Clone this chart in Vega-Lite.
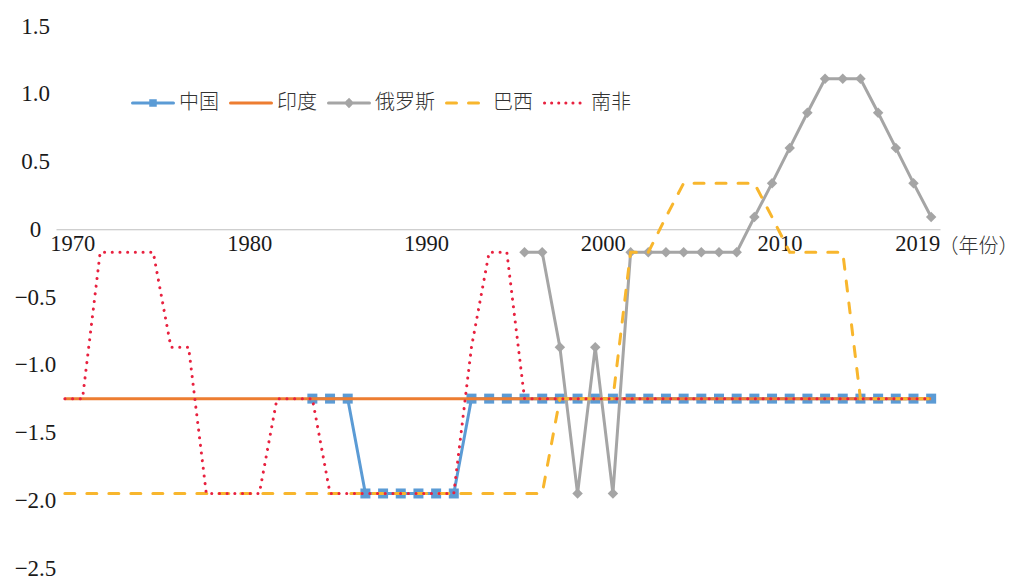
{
  "$schema": "https://vega.github.io/schema/vega-lite/v6.json",
  "width": 884,
  "height": 542,
  "autosize": "none",
  "padding": {"left": 56, "top": 26, "right": 79, "bottom": 11},
  "background": "white",
  "config": {"view": {"stroke": null}},
  "data": {"values": [
    {"year":1984,"series":"中国","value":-1.25},{"year":1985,"series":"中国","value":-1.25},{"year":1986,"series":"中国","value":-1.25},
    {"year":1987,"series":"中国","value":-1.95},{"year":1988,"series":"中国","value":-1.95},{"year":1989,"series":"中国","value":-1.95},
    {"year":1990,"series":"中国","value":-1.95},{"year":1991,"series":"中国","value":-1.95},{"year":1992,"series":"中国","value":-1.95},
    {"year":1993,"series":"中国","value":-1.25},{"year":1994,"series":"中国","value":-1.25},{"year":1995,"series":"中国","value":-1.25},
    {"year":1996,"series":"中国","value":-1.25},{"year":1997,"series":"中国","value":-1.25},{"year":1998,"series":"中国","value":-1.25},
    {"year":1999,"series":"中国","value":-1.25},{"year":2000,"series":"中国","value":-1.25},{"year":2001,"series":"中国","value":-1.25},
    {"year":2002,"series":"中国","value":-1.25},{"year":2003,"series":"中国","value":-1.25},{"year":2004,"series":"中国","value":-1.25},
    {"year":2005,"series":"中国","value":-1.25},{"year":2006,"series":"中国","value":-1.25},{"year":2007,"series":"中国","value":-1.25},
    {"year":2008,"series":"中国","value":-1.25},{"year":2009,"series":"中国","value":-1.25},{"year":2010,"series":"中国","value":-1.25},
    {"year":2011,"series":"中国","value":-1.25},{"year":2012,"series":"中国","value":-1.25},{"year":2013,"series":"中国","value":-1.25},
    {"year":2014,"series":"中国","value":-1.25},{"year":2015,"series":"中国","value":-1.25},{"year":2016,"series":"中国","value":-1.25},
    {"year":2017,"series":"中国","value":-1.25},{"year":2018,"series":"中国","value":-1.25},{"year":2019,"series":"中国","value":-1.25},

    {"year":1970,"series":"印度","value":-1.25},{"year":1975,"series":"印度","value":-1.25},{"year":1980,"series":"印度","value":-1.25},
    {"year":1985,"series":"印度","value":-1.25},{"year":1990,"series":"印度","value":-1.25},{"year":1995,"series":"印度","value":-1.25},
    {"year":2000,"series":"印度","value":-1.25},{"year":2005,"series":"印度","value":-1.25},{"year":2010,"series":"印度","value":-1.25},
    {"year":2015,"series":"印度","value":-1.25},{"year":2019,"series":"印度","value":-1.25},

    {"year":1996,"series":"俄罗斯","value":-0.17},{"year":1997,"series":"俄罗斯","value":-0.17},{"year":1998,"series":"俄罗斯","value":-0.87},
    {"year":1999,"series":"俄罗斯","value":-1.95},{"year":2000,"series":"俄罗斯","value":-0.87},{"year":2001,"series":"俄罗斯","value":-1.95},
    {"year":2002,"series":"俄罗斯","value":-0.17},{"year":2003,"series":"俄罗斯","value":-0.17},{"year":2004,"series":"俄罗斯","value":-0.17},
    {"year":2005,"series":"俄罗斯","value":-0.17},{"year":2006,"series":"俄罗斯","value":-0.17},{"year":2007,"series":"俄罗斯","value":-0.17},
    {"year":2008,"series":"俄罗斯","value":-0.17},{"year":2009,"series":"俄罗斯","value":0.09},{"year":2010,"series":"俄罗斯","value":0.34},
    {"year":2011,"series":"俄罗斯","value":0.6},{"year":2012,"series":"俄罗斯","value":0.86},{"year":2013,"series":"俄罗斯","value":1.11},
    {"year":2014,"series":"俄罗斯","value":1.11},{"year":2015,"series":"俄罗斯","value":1.11},{"year":2016,"series":"俄罗斯","value":0.86},
    {"year":2017,"series":"俄罗斯","value":0.6},{"year":2018,"series":"俄罗斯","value":0.34},{"year":2019,"series":"俄罗斯","value":0.09},

    {"year":1970,"series":"巴西","value":-1.95},{"year":1997,"series":"巴西","value":-1.95},{"year":1998,"series":"巴西","value":-1.25},
    {"year":1999,"series":"巴西","value":-1.25},{"year":2000,"series":"巴西","value":-1.25},{"year":2001,"series":"巴西","value":-1.25},
    {"year":2002,"series":"巴西","value":-0.17},{"year":2003,"series":"巴西","value":-0.17},{"year":2004,"series":"巴西","value":0.09},
    {"year":2005,"series":"巴西","value":0.34},{"year":2006,"series":"巴西","value":0.34},{"year":2007,"series":"巴西","value":0.34},
    {"year":2008,"series":"巴西","value":0.34},{"year":2009,"series":"巴西","value":0.34},{"year":2010,"series":"巴西","value":0.09},
    {"year":2011,"series":"巴西","value":-0.17},{"year":2012,"series":"巴西","value":-0.17},{"year":2013,"series":"巴西","value":-0.17},
    {"year":2014,"series":"巴西","value":-0.17},{"year":2015,"series":"巴西","value":-1.25},{"year":2016,"series":"巴西","value":-1.25},
    {"year":2017,"series":"巴西","value":-1.25},{"year":2018,"series":"巴西","value":-1.25},{"year":2019,"series":"巴西","value":-1.25},

    {"year":1970,"series":"南非","value":-1.25},{"year":1971,"series":"南非","value":-1.25},{"year":1972,"series":"南非","value":-0.17},
    {"year":1973,"series":"南非","value":-0.17},{"year":1974,"series":"南非","value":-0.17},{"year":1975,"series":"南非","value":-0.17},
    {"year":1976,"series":"南非","value":-0.87},{"year":1977,"series":"南非","value":-0.87},{"year":1978,"series":"南非","value":-1.95},
    {"year":1979,"series":"南非","value":-1.95},{"year":1980,"series":"南非","value":-1.95},{"year":1981,"series":"南非","value":-1.95},
    {"year":1982,"series":"南非","value":-1.25},{"year":1983,"series":"南非","value":-1.25},{"year":1984,"series":"南非","value":-1.25},
    {"year":1985,"series":"南非","value":-1.95},{"year":1986,"series":"南非","value":-1.95},{"year":1987,"series":"南非","value":-1.95},
    {"year":1988,"series":"南非","value":-1.95},{"year":1989,"series":"南非","value":-1.95},{"year":1990,"series":"南非","value":-1.95},
    {"year":1991,"series":"南非","value":-1.95},{"year":1992,"series":"南非","value":-1.95},{"year":1993,"series":"南非","value":-0.87},
    {"year":1994,"series":"南非","value":-0.17},{"year":1995,"series":"南非","value":-0.17},{"year":1996,"series":"南非","value":-1.25},
    {"year":2000,"series":"南非","value":-1.25},{"year":2005,"series":"南非","value":-1.25},{"year":2010,"series":"南非","value":-1.25},
    {"year":2015,"series":"南非","value":-1.25},{"year":2019,"series":"南非","value":-1.25}
  ]},
  "encoding": {
    "x": {
      "field": "year", "type": "quantitative",
      "scale": {"domain": [1969.5, 2019.5], "nice": false, "zero": false},
      "axis": {
        "orient": "bottom", "offset": -338.75,
        "values": [1970, 1980, 1990, 2000, 2010, 2019],
        "labelExpr": "'' + datum.value",
        "grid": false, "ticks": false,
        "domainColor": "#bfbfbf", "domainWidth": 1,
        "labelFont": "Liberation Serif", "labelFontSize": 22.5, "labelColor": "#1a1a1a",
        "labelPadding": 3,
        "labelOffset": {"condition": {"test": "datum.value == 2019", "value": -14}, "value": 7.5},
        "labelFlush": false, "labelOverlap": false,
        "title": "（年份）",
        "titleFont": "Noto Sans CJK SC", "titleFontSize": 20, "titleFontWeight": 300,
        "titleColor": "#333333", "titleAlign": "left", "titleBaseline": "middle",
        "titleAnchor": null, "titleX": 882, "titleY": 17, "titleAngle": 0
      }
    },
    "y": {
      "field": "value", "type": "quantitative",
      "scale": {"domain": [-2.5, 1.5], "nice": false, "zero": false},
      "axis": {
        "values": [-2.5, -2, -1.5, -1, -0.5, 0, 0.5, 1, 1.5],
        "labelExpr": "datum.value == 0 ? '0' : format(datum.value, '.1f')",
        "grid": false, "ticks": false, "domain": false,
        "labelFont": "Liberation Serif", "labelFontSize": 23, "labelColor": "#1a1a1a",
        "labelAlign": "center", "labelPadding": 21,
        "title": null
      }
    },
    "color": {
      "field": "series", "type": "nominal",
      "scale": {
        "domain": ["中国", "印度", "俄罗斯", "巴西", "南非"],
        "range": ["#5b9bd5", "#ed7d31", "#a5a5a5", "#f8b62d", "#e8213f"]
      },
      "legend": {
        "title": null, "orient": "none", "direction": "horizontal",
        "legendX": 75, "legendY": 55, "padding": 0,
        "columnPadding": 5, "labelOffset": 4,
        "labelFont": "Noto Sans CJK SC", "labelFontSize": 20, "labelFontWeight": 300, "labelColor": "#333333",
        "symbolType": "M-1,0H1", "symbolSize": 1681, "symbolStrokeWidth": 3,
        "encode": {
          "symbols": {
            "update": {
              "shape": {"signal": "datum.value === '中国' ? 'M-1,0H1M-0.11,-0.11H0.11V0.11H-0.11Z' : (datum.value === '俄罗斯' ? 'M-1,0H1M0,-0.15L0.15,0L0,0.15L-0.15,0Z' : 'M-1,0H1')"},
              "strokeDash": {"signal": "datum.value === '巴西' ? [10, 12] : (datum.value === '南非' ? [0.1, 7] : [1, 0])"},
              "strokeCap": {"value": "round"},
              "fill": {"scale": "color", "field": "value"},
              "strokeWidth": {"value": 3}
            }
          }
        }
      }
    }
  },
  "layer": [
    {
      "transform": [{"filter": "datum.series === '中国'"}],
      "mark": {"type": "line", "strokeWidth": 3, "point": {"shape": "square", "size": 100, "filled": true, "opacity": 1}}
    },
    {
      "transform": [{"filter": "datum.series === '印度'"}],
      "mark": {"type": "line", "strokeWidth": 3}
    },
    {
      "transform": [{"filter": "datum.series === '俄罗斯'"}],
      "mark": {"type": "line", "strokeWidth": 3, "point": {"shape": "diamond", "size": 110, "filled": true, "opacity": 1}}
    },
    {
      "transform": [{"filter": "datum.series === '巴西'"}],
      "mark": {"type": "line", "strokeWidth": 3, "strokeDash": [10, 12], "strokeCap": "round"}
    },
    {
      "transform": [{"filter": "datum.series === '南非'"}],
      "mark": {"type": "line", "strokeWidth": 3, "strokeDash": [0.1, 7.6], "strokeCap": "round"}
    }
  ]
}
